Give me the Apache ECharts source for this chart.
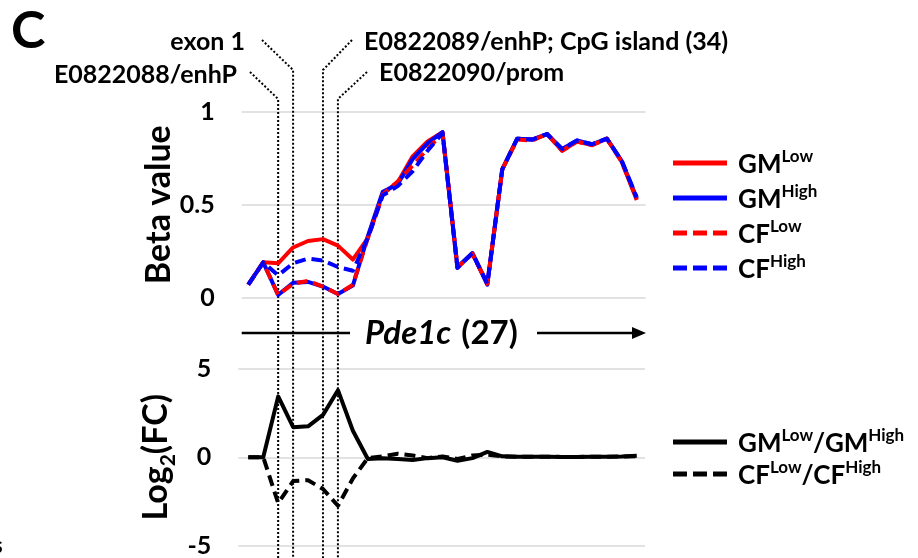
<!DOCTYPE html>
<html>
<head>
<meta charset="utf-8">
<script src="https://cdn.jsdelivr.net/npm/echarts@6/dist/echarts.min.js"></script>
<style>
html, body { margin: 0; padding: 0; background: #fff; }
#main { width: 918px; height: 558px; }
</style>
</head>
<body>
<div id="main"></div>
<script>
// CpG sites along Pde1c, in order (27 probes)
const sites = [1, 2, 3, 4, 5, 6, 7, 8, 9, 10, 11, 12, 13, 14, 15, 16, 17, 18, 19, 20, 21, 22, 23, 24, 25, 26, 27];

// Methylation beta values per group
const gmLow  = [0.07, 0.19, 0.185, 0.27, 0.305, 0.315, 0.28, 0.205, 0.32, 0.56, 0.62, 0.76, 0.84, 0.89, 0.16, 0.24, 0.075, 0.69, 0.855, 0.85, 0.88, 0.79, 0.84, 0.82, 0.855, 0.73, 0.525];
const gmHigh = [0.07, 0.19, 0.015, 0.08, 0.085, 0.06, 0.02, 0.065, 0.33, 0.57, 0.61, 0.745, 0.83, 0.89, 0.165, 0.24, 0.07, 0.69, 0.855, 0.85, 0.88, 0.80, 0.845, 0.825, 0.855, 0.735, 0.535];
const cfLow  = [0.07, 0.19, 0.015, 0.075, 0.09, 0.06, 0.02, 0.07, 0.32, 0.555, 0.625, 0.71, 0.80, 0.885, 0.165, 0.235, 0.075, 0.69, 0.85, 0.845, 0.88, 0.79, 0.84, 0.82, 0.855, 0.73, 0.53];
const cfHigh = [0.07, 0.19, 0.12, 0.185, 0.21, 0.20, 0.165, 0.145, 0.32, 0.55, 0.60, 0.68, 0.79, 0.885, 0.16, 0.24, 0.075, 0.69, 0.855, 0.85, 0.88, 0.80, 0.845, 0.825, 0.855, 0.735, 0.54];

// log2 fold changes Low/High
const log2GM = [0, 0, 3.45, 1.7, 1.75, 2.4, 3.8, 1.5, -0.1, -0.05, -0.1, -0.15, -0.05, 0, -0.2, -0.05, 0.3, 0.05, 0.03, 0.03, 0.03, 0.02, 0.02, 0.03, 0.03, 0.04, 0.08];
const log2CF = [0, 0, -2.6, -1.35, -1.3, -1.8, -2.75, -1.2, -0.05, 0.05, 0.2, 0.1, -0.05, 0.05, -0.1, 0.1, 0.15, 0.05, 0.03, 0.03, 0.03, 0.02, 0.02, 0.03, 0.03, 0.04, 0.06];

// Axis tick steps
const betaRange = [0, 1], betaStep = 0.5;
const fcRange = [-5, 5], fcStep = 5;

// Annotated regulatory features and the CpG site each one points at
const featureNames = ['E0822088/enhP', 'exon 1', 'E0822089/enhP; CpG island (34)', 'E0822090/prom'];
const featureSites = [3, 4, 6, 7];

const FONT = 'Lato';
const RED = '#ff0000', BLUE = '#0000ff';

const pairs = arr => sites.map((s, i) => [s, arr[i]]);

const solidIcon = 'path://M0,0H54V5H0Z';
const dashIcon = 'path://M0,0H14V5H0Z M20,0H34V5H20Z M40,0H54V5H40Z';

const legendText = {
  'GM Low': '{m|GM}{s|Low}',
  'GM High': '{m|GM}{s|High}',
  'CF Low': '{m|CF}{s|Low}',
  'CF High': '{m|CF}{s|High}',
  'GM Low/High': '{m|GM}{s|Low}{n|/GM}{s|High}',
  'CF Low/High': '{m|CF}{s|Low}{n|/CF}{s|High}'
};
const legendRich = {
  m: { fontFamily: FONT, fontWeight: 'bold', fontSize: 26, color: '#000', verticalAlign: 'bottom', lineHeight: 30, padding: [0, 0, 0, 6] },
  n: { fontFamily: FONT, fontWeight: 'bold', fontSize: 26, color: '#000', verticalAlign: 'bottom', lineHeight: 30 },
  s: { fontFamily: FONT, fontWeight: 'bold', fontSize: 17, color: '#000', verticalAlign: 'top' }
};

const tickLabel = { fontFamily: FONT, fontWeight: 'bold', fontSize: 25, color: '#000', margin: 27 };
const gridLine = { show: true, lineStyle: { color: '#d9d9d9', width: 1.5 } };

const lineSeries = (name, data, color, dashed, xi) => ({
  name, type: 'line', xAxisIndex: xi, yAxisIndex: xi, data: pairs(data),
  symbol: 'none', smooth: false, animation: false,
  lineStyle: { color, width: 4, type: dashed ? [11, 6] : 'solid', cap: 'butt', join: 'round' },
  itemStyle: { color }
});

const chart = echarts.init(document.getElementById('main'), null, { renderer: 'canvas' });

const option = {
  backgroundColor: '#fff',
  animation: false,
  grid: [
    { left: 241.7, top: 111.7, width: 404, height: 186 },
    { left: 238.3, top: 369, width: 406.7, height: 179.3 }
  ],
  xAxis: [
    { type: 'value', gridIndex: 0, min: 0.56, max: 27.6, show: false },
    { type: 'value', gridIndex: 1, min: 0.33, max: 27.55, show: false }
  ],
  yAxis: [
    {
      type: 'value', gridIndex: 0, min: betaRange[0], max: betaRange[1], interval: betaStep,
      axisLine: { show: false }, axisTick: { show: false }, splitLine: gridLine,
      axisLabel: tickLabel,
      name: 'Beta value', nameLocation: 'middle', nameRotate: 90, nameGap: 64,
      nameTextStyle: { fontFamily: FONT, fontWeight: 'bold', fontSize: 34, color: '#000' }
    },
    {
      type: 'value', gridIndex: 1, min: fcRange[0], max: fcRange[1], interval: fcStep,
      axisLine: { show: false }, axisTick: { show: false }, splitLine: gridLine,
      axisLabel: tickLabel,
      name: 'Log{sub|2}(FC)', nameLocation: 'middle', nameRotate: 90, nameGap: 60,
      nameTextStyle: {
        fontFamily: FONT, fontWeight: 'bold', fontSize: 34, color: '#000', lineHeight: 44,
        rich: { sub: { fontFamily: FONT, fontWeight: 'bold', fontSize: 21, color: '#000', verticalAlign: 'bottom', lineHeight: 44 } }
      }
    }
  ],
  legend: [
    {
      orient: 'vertical', left: 668, top: 143, itemWidth: 54, itemHeight: 5, itemGap: 5,
      selectedMode: false, itemStyle: { borderWidth: 0 },
      data: [
        { name: 'GM Low', icon: solidIcon },
        { name: 'GM High', icon: solidIcon },
        { name: 'CF Low', icon: dashIcon },
        { name: 'CF High', icon: dashIcon }
      ],
      formatter: n => legendText[n],
      textStyle: { rich: legendRich }
    },
    {
      orient: 'vertical', left: 668, top: 422, itemWidth: 54, itemHeight: 5, itemGap: 2,
      selectedMode: false, itemStyle: { borderWidth: 0 },
      data: [
        { name: 'GM Low/High', icon: solidIcon },
        { name: 'CF Low/High', icon: dashIcon }
      ],
      formatter: n => legendText[n],
      textStyle: { rich: legendRich }
    }
  ],
  series: [
    lineSeries('GM Low', gmLow, RED, false, 0),
    lineSeries('GM High', gmHigh, BLUE, false, 0),
    lineSeries('CF Low', cfLow, RED, true, 0),
    lineSeries('CF High', cfHigh, BLUE, true, 0),
    lineSeries('GM Low/High', log2GM, '#000', false, 1),
    lineSeries('CF Low/High', log2CF, '#000', true, 1)
  ]
};

chart.setOption(option);

// Dotted leaders from each feature label down through both panels
const fx = featureSites.map(s => chart.convertToPixel({ xAxisIndex: 0 }, s));
const dotted = { stroke: '#000', lineWidth: 2, lineDash: [2, 2], fill: null };
const leaders = [
  [[250, 72], [fx[0], 99], [fx[0], 558]],
  [[262, 40], [fx[1], 70], [fx[1], 558]],
  [[352, 40], [fx[2], 70], [fx[2], 558]],
  [[367, 72], [fx[3], 99], [fx[3], 558]]
];
const labelFont = { fontFamily: FONT, fontWeight: 'bold', fontSize: 25, fill: '#000' };

chart.setOption({
  graphic: [
    { type: 'text', left: 11, top: 5, style: { text: 'C', fontFamily: FONT, fontWeight: 'bold', fontSize: 52, fill: '#000' } },
    { type: 'text', x: 245, y: 42, style: Object.assign({ text: featureNames[1], align: 'right', verticalAlign: 'middle' }, labelFont) },
    { type: 'text', x: 364, y: 42, style: Object.assign({ text: featureNames[2], align: 'left', verticalAlign: 'middle' }, labelFont) },
    { type: 'text', x: 237, y: 75, style: Object.assign({ text: featureNames[0], align: 'right', verticalAlign: 'middle' }, labelFont) },
    { type: 'text', x: 379, y: 73, style: Object.assign({ text: featureNames[3], align: 'left', verticalAlign: 'middle' }, labelFont) },
    ...leaders.map(pts => ({ type: 'polyline', z: 1, shape: { points: pts }, style: dotted })),
    // gene track: Pde1c with transcription direction arrow
    { type: 'line', shape: { x1: 241.7, y1: 333, x2: 350, y2: 333 }, style: { stroke: '#000', lineWidth: 2.5 } },
    {
      type: 'text', x: 365, y: 333,
      style: {
        text: '{i|Pde1c}{n|(27)}', verticalAlign: 'middle', align: 'left',
        rich: {
          i: { fontFamily: FONT, fontWeight: 'bold', fontStyle: 'italic', fontSize: 33, fill: '#000' },
          n: { fontFamily: FONT, fontWeight: 'bold', fontSize: 33, fill: '#000', padding: [0, 0, 0, 10] }
        }
      }
    },
    { type: 'line', shape: { x1: 537, y1: 333, x2: 636, y2: 333 }, style: { stroke: '#000', lineWidth: 2.5 } },
    { type: 'polygon', shape: { points: [[632, 327], [646, 333], [632, 339]] }, style: { fill: '#000' } },
    { type: 'text', x: -7, y: 546, style: { text: 's', fontFamily: FONT, fontWeight: 'bold', fontSize: 22, fill: '#000', verticalAlign: 'middle' } }
  ]
});
</script>
</body>
</html>
